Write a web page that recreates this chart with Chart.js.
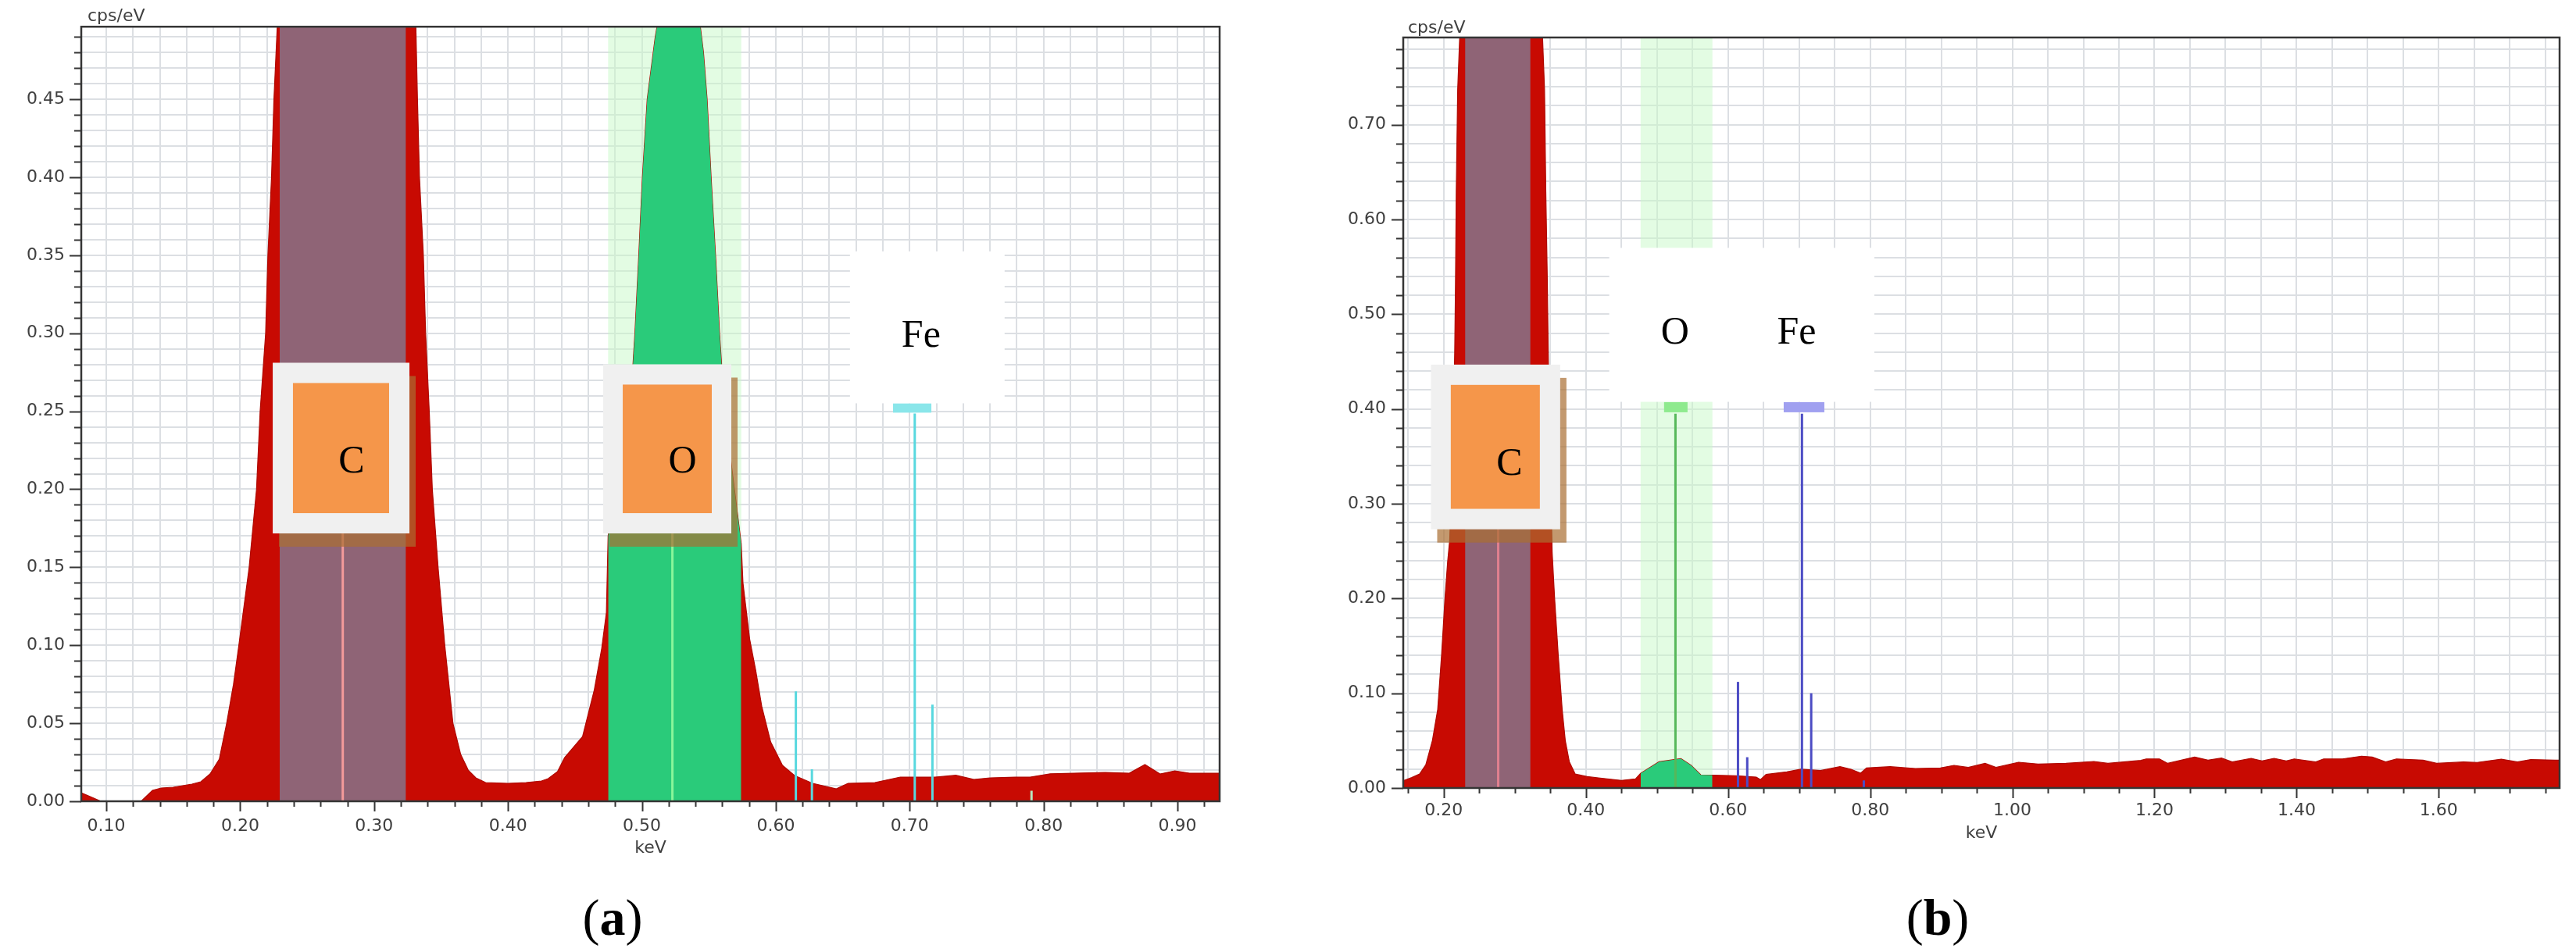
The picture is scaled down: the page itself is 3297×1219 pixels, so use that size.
<!DOCTYPE html>
<html>
<head>
<meta charset="utf-8">
<script src="https://cdn.jsdelivr.net/npm/chart.js@4.4.1/dist/chart.umd.min.js"></script>
<style>
  body { margin: 0; background: #fff; width: 3297px; height: 1219px; position: relative; overflow: hidden; }
  canvas { position: absolute; top: 0; }
  .cap { position: absolute; font-family: "Liberation Serif", serif; font-size: 66px; color: #000;
         transform: translate(-50%, -50%); white-space: nowrap; }
</style>
</head>
<body>
<canvas id="chartA" width="1600" height="1110" style="left:0"></canvas>
<canvas id="chartB" width="1597" height="1110" style="left:1700px"></canvas>
<div class="cap" style="left:784px;top:1175px">(<b>a</b>)</div>
<div class="cap" style="left:2480px;top:1175px">(<b>b</b>)</div>
<script>
// spectrum (a): energy in keV and intensity in cps/eV
const aKeV = [0.081, 0.088, 0.096, 0.126, 0.1345, 0.141, 0.150, 0.164, 0.1706, 0.1775,
  0.1844, 0.1899, 0.195, 0.199, 0.2067, 0.2122, 0.2149, 0.219, 0.2207,
  0.2234, 0.2252, 0.2277, 0.2295, 0.2766, 0.3238, 0.3312, 0.3324, 0.3339, 0.3368,
  0.3385, 0.3412, 0.3435, 0.3478, 0.3528, 0.3589, 0.3647, 0.3703, 0.376, 0.3833,
  0.400, 0.4135, 0.425, 0.430, 0.437, 0.4423, 0.4557, 0.4645, 0.470, 0.4735,
  0.4748, 0.4912, 0.4948, 0.4977, 0.5004, 0.504, 0.510, 0.515, 0.528, 0.541,
  0.546, 0.5487, 0.5517, 0.555, 0.558, 0.5618, 0.5742, 0.5755, 0.5805, 0.585,
  0.5895, 0.5962, 0.605, 0.614, 0.6275, 0.6452, 0.654, 0.674, 0.693, 0.719,
  0.7345, 0.748, 0.760, 0.779, 0.790, 0.805, 0.846, 0.864, 0.8757, 0.887,
  0.898, 0.909, 0.932];
const aCps = [0.0055, 0.003, 0.0, 0.0, 0.007, 0.0085, 0.009, 0.011, 0.0125, 0.0175,
  0.027, 0.05, 0.075, 0.10, 0.15, 0.20, 0.25, 0.30, 0.35,
  0.40, 0.45, 0.497, 0.54, 0.62, 0.54, 0.497, 0.45, 0.40, 0.35,
  0.30, 0.25, 0.20, 0.15, 0.10, 0.05, 0.03, 0.02, 0.015, 0.012,
  0.0115, 0.012, 0.013, 0.0145, 0.019, 0.028, 0.0415, 0.0715, 0.098, 0.121,
  0.17, 0.25, 0.30, 0.35, 0.40, 0.45, 0.49, 0.515, 0.53, 0.515,
  0.48, 0.45, 0.40, 0.35, 0.30, 0.25, 0.165, 0.14, 0.104, 0.084,
  0.061, 0.038, 0.023, 0.0165, 0.0115, 0.008, 0.0115, 0.012, 0.0155, 0.0155,
  0.0167, 0.014, 0.015, 0.0155, 0.0155, 0.0176, 0.0185, 0.018, 0.0235, 0.0175,
  0.0195, 0.018, 0.018];

// spectrum (b)
const bKeV = [0.144, 0.155, 0.166, 0.1747, 0.184, 0.1915, 0.197, 0.2017, 0.2055, 0.2084,
  0.2125, 0.2154, 0.2165, 0.2176, 0.2196, 0.2224, 0.226, 0.230, 0.2766, 0.322,
  0.336, 0.339, 0.3418, 0.3436, 0.3458, 0.347, 0.3525, 0.356, 0.361, 0.3666,
  0.371, 0.3767, 0.385, 0.4019, 0.420, 0.450, 0.470, 0.477, 0.503, 0.5337,
  0.548, 0.5617, 0.578, 0.612, 0.6397, 0.6455, 0.6535, 0.6827, 0.7025, 0.73,
  0.7575, 0.773, 0.7866, 0.7948, 0.828, 0.8635, 0.8988, 0.918, 0.938, 0.9616,
  0.977, 1.0088, 1.0363, 1.0755, 1.1148, 1.1345, 1.1808, 1.1884, 1.207, 1.2186,
  1.2565, 1.2753, 1.2943, 1.3094, 1.336, 1.3513, 1.3683, 1.3854, 1.3966, 1.4269,
  1.438, 1.4645, 1.4913, 1.5063, 1.5253, 1.5404, 1.578, 1.597, 1.6348, 1.654,
  1.688, 1.7107, 1.7295, 1.7636, 1.77];
const bCps = [0.008, 0.011, 0.0147, 0.0244, 0.050, 0.083, 0.141, 0.20, 0.239, 0.262,
  0.35, 0.459, 0.532, 0.629, 0.737, 0.792, 0.95, 0.97, 1.10, 1.0,
  0.95, 0.792, 0.737, 0.629, 0.532, 0.459, 0.249, 0.20, 0.141, 0.083,
  0.050, 0.0277, 0.0147, 0.012, 0.0105, 0.008, 0.0097, 0.0155, 0.0277, 0.031,
  0.024, 0.0138, 0.0135, 0.013, 0.0115, 0.0088, 0.0143, 0.017, 0.0198, 0.0184,
  0.0225, 0.0198, 0.0157, 0.0212, 0.0225, 0.0206, 0.0212, 0.0239, 0.0217, 0.026,
  0.0217, 0.0272, 0.0253, 0.026, 0.028, 0.026, 0.0291, 0.0307, 0.0307, 0.026,
  0.0327, 0.0294, 0.0316, 0.0275, 0.0313, 0.0286, 0.0313, 0.0286, 0.0307, 0.0275,
  0.0307, 0.0307, 0.0335, 0.0327, 0.0275, 0.0307, 0.0294, 0.026, 0.0275, 0.027,
  0.0304, 0.0275, 0.030, 0.0294, 0.0294];

// element windows (C, O) in keV
const aWindows = [[0.2295, 0.3238], [0.4748, 0.5742]];
const bWindows = [[0.230, 0.322], [0.477, 0.578]];

// element marker lines
const aLineKeV = [0.2766, 0.5228, 0.615, 0.627, 0.7038, 0.717, 0.791];
const aLineCps = [0.2485, 0.2485, 0.0705, 0.0205, 0.2485, 0.062, 0.0068];
const aLineEl = ['C', 'O', 'Fe', 'Fe', 'Fe', 'Fe', 'X'];
const bLineKeV = [0.2766, 0.526, 0.614, 0.627, 0.704, 0.717, 0.791];
const bLineCps = [0.395, 0.395, 0.112, 0.0325, 0.395, 0.100, 0.008];
const bLineEl = ['C', 'O', 'Fe', 'Fe', 'Fe', 'Fe', 'Fe'];

const RED = '#c80a02';
const MAUVE = '#8f6476';
const GREEN = '#2acb7a';
const BAND = 'rgba(200,250,200,0.5)';
const ORANGE = '#f5964a';
const SHADOW = 'rgba(170,110,50,0.7)';
const GRID = '#dcdfe3';
const TEXT = '#3f3f3f';

function isMajor(v, m) {
  const r = v / m;
  return Math.abs(r - Math.round(r)) < 1e-6;
}

function spectrumChart(id, p) {
  const pts = p.keV.map((k, i) => ({ x: k, y: p.cps[i] }));
  const inWin = w => pts.filter(q => q.x >= w[0] - 1e-9 && q.x <= w[1] + 1e-9);

  const datasets = [
    { data: pts, order: 3, fill: 'origin', backgroundColor: RED, borderColor: '#b00800', borderWidth: 1.2, pointRadius: 0 },
    { data: inWin(p.windows[0]), order: 2, fill: 'origin', backgroundColor: MAUVE, borderColor: 'transparent', borderWidth: 0, pointRadius: 0 },
    { data: inWin(p.windows[1]), order: 2, fill: 'origin', backgroundColor: GREEN, borderColor: 'transparent', borderWidth: 0, pointRadius: 0 }
  ];
  p.lineKeV.forEach((k, i) => {
    datasets.push({
      data: [{ x: k, y: 0 }, { x: k, y: p.lineCps[i] }],
      order: 1, fill: false, pointRadius: 0,
      borderColor: p.colors[p.lineEl[i]], borderWidth: 3
    });
  });

  // light band behind the O window, label boxes, frame and axis marks
  const decor = {
    id: 'decor',
    beforeDatasetsDraw(chart) {
      const { ctx, chartArea: a, scales: { x } } = chart;
      const w = p.windows[1];
      const l = x.getPixelForValue(w[0]), r = x.getPixelForValue(w[1]);
      ctx.save();
      ctx.fillStyle = BAND;
      ctx.fillRect(l, a.top, r - l, a.bottom - a.top);
      ctx.restore();
    },
    afterDatasetsDraw(chart) {
      const { ctx, scales: { x, y } } = chart;
      const rect = r => {
        const l = x.getPixelForValue(r[0]), rr = x.getPixelForValue(r[1]);
        const t = y.getPixelForValue(r[3]), b = y.getPixelForValue(r[2]);
        return [l, t, rr - l, b - t];
      };
      ctx.save();
      p.tabs.forEach(tb => {
        const [l, t, w, h] = rect(tb.r);
        ctx.fillStyle = tb.color;
        ctx.fillRect(l, t, w, h);
      });
      p.boxes.forEach(bx => {
        const [l, t, w, h] = rect(bx.outer);
        if (bx.inner) {
          ctx.fillStyle = SHADOW;
          ctx.fillRect(l + 8, t + 17, w, h);
          ctx.fillStyle = '#f0f0f0';
          ctx.fillRect(l, t, w, h);
          const [il, it, iw, ih] = rect(bx.inner);
          ctx.fillStyle = ORANGE;
          ctx.fillRect(il, it, iw, ih);
        } else {
          ctx.fillStyle = '#ffffff';
          ctx.fillRect(l, t, w, h);
        }
        ctx.fillStyle = '#000';
        ctx.font = '50px "Liberation Serif"';
        ctx.textAlign = 'center';
        ctx.textBaseline = 'alphabetic';
        bx.texts.forEach(tx => {
          ctx.fillText(tx[0], x.getPixelForValue(tx[1]), y.getPixelForValue(tx[2]) + 17);
        });
      });
      ctx.restore();
    },
    afterDraw(chart) {
      const { ctx, chartArea: a, scales: { x, y } } = chart;
      ctx.save();
      ctx.strokeStyle = '#353535';
      ctx.lineWidth = 2.5;
      ctx.strokeRect(a.left, a.top, a.right - a.left, a.bottom - a.top);
      ctx.lineWidth = 2;
      ctx.beginPath();
      y.ticks.forEach(t => {
        const py = Math.round(y.getPixelForValue(t.value)) + 0.5;
        const len = isMajor(t.value, p.yMajor) ? 15 : 9;
        ctx.moveTo(a.left - len, py);
        ctx.lineTo(a.left, py);
      });
      x.ticks.forEach(t => {
        const px = Math.round(x.getPixelForValue(t.value)) + 0.5;
        const len = isMajor(t.value, p.xMajor) ? 13 : 7;
        ctx.moveTo(px, a.bottom);
        ctx.lineTo(px, a.bottom + len);
      });
      ctx.stroke();
      ctx.fillStyle = TEXT;
      ctx.font = '22px "DejaVu Sans"';
      ctx.textBaseline = 'middle';
      ctx.textAlign = 'left';
      ctx.fillText('cps/eV', a.left + p.unitDx, a.top - p.unitDy);
      ctx.textAlign = 'center';
      ctx.fillText('keV', (a.left + a.right) / 2, a.bottom + p.kevDy);
      ctx.restore();
    }
  };

  const tickFont = { family: 'DejaVu Sans', size: 22 };
  return new Chart(document.getElementById(id), {
    type: 'line',
    data: { datasets },
    plugins: [decor],
    options: {
      responsive: false,
      animation: false,
      layout: { padding: { left: 0, top: p.area.top, right: p.W - p.area.right, bottom: 0 } },
      plugins: { legend: { display: false }, tooltip: { enabled: false } },
      scales: {
        x: {
          type: 'linear', min: p.xMin, max: p.xMax,
          border: { display: false },
          grid: { color: GRID, lineWidth: 2, drawTicks: false },
          ticks: {
            stepSize: p.xStep, includeBounds: false, autoSkip: false, maxRotation: 0, maxTicksLimit: 1000,
            padding: p.xPad, color: TEXT, font: tickFont,
            callback: v => isMajor(v, p.xMajor) ? v.toFixed(2) : ''
          },
          afterFit: s => { s.height = p.H - p.area.bottom; }
        },
        y: {
          type: 'linear', min: 0, max: p.yMax,
          border: { display: false },
          grid: { color: GRID, lineWidth: 2, drawTicks: false },
          ticks: {
            stepSize: p.yStep, includeBounds: false, autoSkip: false, maxTicksLimit: 1000,
            padding: p.yPad, color: TEXT, font: tickFont,
            callback: v => isMajor(v, p.yMajor) ? v.toFixed(2) : ''
          },
          afterFit: s => { s.width = p.area.left; }
        }
      }
    }
  });
}

spectrumChart('chartA', {
  keV: aKeV, cps: aCps, windows: aWindows,
  lineKeV: aLineKeV, lineCps: aLineCps, lineEl: aLineEl,
  colors: { C: '#f39a9a', O: '#8af59a', Fe: '#58d8df', X: '#b8e8c0' },
  W: 1600, H: 1110, area: { left: 104, top: 31, right: 1561, bottom: 1026 },
  xMin: 0.0813, xMax: 0.9315, xStep: 0.02, xMajor: 0.1,
  yMax: 0.4965, yStep: 0.01, yMajor: 0.05,
  xPad: 19, yPad: 21, unitDx: 8, unitDy: 13, kevDy: 60,
  tabs: [{ r: [0.6876, 0.7162, 0.2491, 0.2551], color: '#8ae6ea' }],
  boxes: [
    { outer: [0.2243, 0.3264, 0.1717, 0.2811], inner: [0.2394, 0.3112, 0.1847, 0.2681], texts: [['C', 0.2832, 0.2192]] },
    { outer: [0.4711, 0.5668, 0.1717, 0.2801], inner: [0.4857, 0.5522, 0.1847, 0.2671], texts: [['O', 0.5304, 0.2192]] },
    { outer: [0.6554, 0.7709, 0.2551, 0.3525], texts: [['Fe', 0.7085, 0.300]] }
  ]
});

spectrumChart('chartB', {
  keV: bKeV, cps: bCps, windows: bWindows,
  lineKeV: bLineKeV, lineCps: bLineCps, lineEl: bLineEl,
  colors: { C: '#e0808f', O: '#56b85a', Fe: '#4c4cc4' },
  W: 1597, H: 1110, area: { left: 96, top: 48, right: 1576, bottom: 1009 },
  xMin: 0.143, xMax: 1.770, xStep: 0.05, xMajor: 0.2,
  yMax: 0.792, yStep: 0.02, yMajor: 0.1,
  xPad: 16, yPad: 22, unitDx: 6, unitDy: 12, kevDy: 58,
  tabs: [
    { r: [0.510, 0.543, 0.3965, 0.4073], color: '#8eea8e' },
    { r: [0.6783, 0.7355, 0.3965, 0.4073], color: '#a0a0f0' }
  ],
  boxes: [
    { outer: [0.182, 0.3638, 0.2730, 0.4468], inner: [0.2099, 0.3352, 0.2946, 0.4254], texts: [['C', 0.2924, 0.3446]] },
    { outer: [0.4328, 0.8059, 0.4075, 0.570], texts: [['O', 0.5253, 0.4831], ['Fe', 0.6964, 0.4831]] }
  ]
});
</script>
</body>
</html>
